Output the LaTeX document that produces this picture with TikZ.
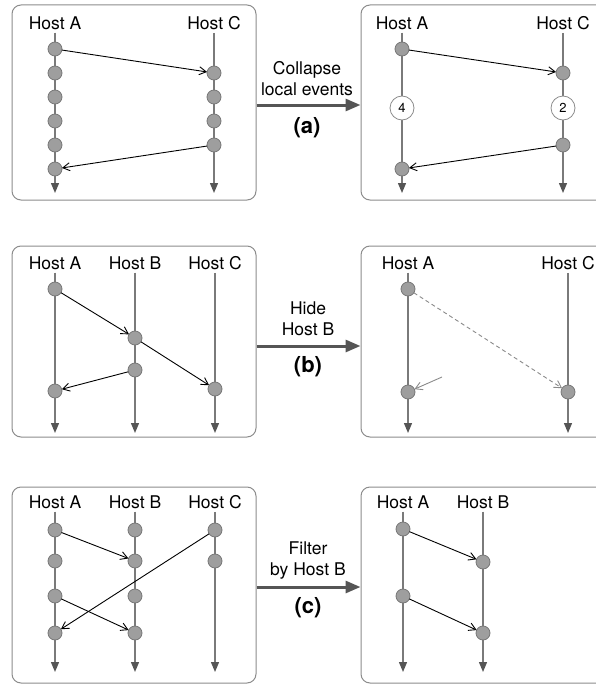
\documentclass[tikz,border=0pt]{standalone}
\usepackage{fontspec}
\setmainfont{TeX Gyre Heros}
\usepackage{xcolor}
\definecolor{cFrame}{HTML}{8C8C8C}
\definecolor{cLine}{HTML}{7A7A7A}
\definecolor{cEvent}{HTML}{9E9E9E}
\definecolor{cEventEdge}{HTML}{777777}
\definecolor{cDark}{HTML}{555555}
\definecolor{cHint}{HTML}{8A8A8A}
\usepackage{tikz}
\usetikzlibrary{positioning,arrows.meta}
\tikzset{
  panel-box/.style={draw=cFrame,line width=1pt,rounded corners=9pt,inner sep=0pt},
  host-label/.style={font=\fontsize{17.5}{21}\selectfont,inner sep=3pt},
  node-event/.style={circle,draw=cEventEdge,fill=cEvent,line width=0.8pt,
    minimum size=14pt,inner sep=0pt,outer sep=0pt},
  node-count/.style={circle,draw=cFrame,fill=white,line width=0.8pt,
    minimum size=24pt,inner sep=0pt,font=\fontsize{13}{15}\selectfont},
  % lifelines run under the events, messages go border to border
  lifeline/.style={draw=cLine,line width=1.3pt,
    -{Triangle[length=10pt,width=8pt,color=cDark]}},
  arrow-msg/.style={-{Straight Barb[length=7pt,width=8pt]},line width=0.9pt,draw=black},
  arrow-hidden/.style={-{Straight Barb[length=7pt,width=8pt]},line width=0.9pt,
    draw=cHint,dash pattern=on 4pt off 3pt},
  arrow-hint/.style={-{Straight Barb[length=7pt,width=8pt]},line width=0.9pt,draw=cHint},
  arrow-step/.style={-{Triangle[length=15pt,width=12pt]},line width=3pt,draw=cDark},
  step-text/.style={font=\fontsize{17.5}{21}\selectfont,align=center},
  step-tag/.style={font=\fontsize{22}{26}\selectfont\bfseries},
}

\begin{document}
\begin{tikzpicture}[x=1pt,y=-1pt,node distance=10pt]
  \useasboundingbox (0,0) rectangle (595,685);
  \node[panel-box,minimum width=244pt,minimum height=195pt] (pa-l) at (134,102.5) {};
  \node[panel-box,minimum width=250pt,minimum height=195pt] (pa-r) at (486,102.5) {};
  \node[panel-box,minimum width=244pt,minimum height=191pt] (pb-l) at (134,341.5) {};
  \node[panel-box,minimum width=250pt,minimum height=191pt] (pb-r) at (486,341.5) {};
  \node[panel-box,minimum width=244pt,minimum height=196pt] (pc-l) at (134,585) {};
  \node[panel-box,minimum width=250pt,minimum height=196pt] (pc-r) at (486,585) {};

  \draw[arrow-step] ([yshift=-2.5pt]pa-l.east) -- ([yshift=-2.5pt]pa-r.west);
  \draw[arrow-step] ([yshift=-4.5pt]pb-l.east) -- ([yshift=-4.5pt]pb-r.west);
  \draw[arrow-step] ([yshift=-2pt]pc-l.east) -- ([yshift=-2pt]pc-r.west);
  \node[step-text] (ta) at (307,79) {Collapse\\local events};
  \node[step-tag] (tag-a) at (307,128) {(a)};
  \node[step-text] (tb) at (308,319) {Hide\\Host B};
  \node[step-tag] (tag-b) at (308,367) {(b)};
  \node[step-text] (tc) at (308,561) {Filter\\by Host B};
  \node[step-tag] (tag-c) at (308,608) {(c)};

  \node[host-label] (la-hA) at (55,23) {Host A};
  \node[host-label] (la-hC) at (214,23) {Host C};
  \coordinate (la-eA) at (55,193);
  \coordinate (la-eC) at (214,193);
  \draw[lifeline] (la-hA) -- (la-eA);
  \draw[lifeline] (la-hC) -- (la-eC);
  \node[node-event] (la-a1) at (55,49) {};
  \node[node-event,below=of la-a1] (la-a2) {};
  \node[node-event,below=of la-a2] (la-a3) {};
  \node[node-event,below=of la-a3] (la-a4) {};
  \node[node-event,below=of la-a4] (la-a5) {};
  \node[node-event,below=of la-a5] (la-a6) {};
  \node[node-event] (la-c1) at (214,73) {};
  \node[node-event,below=of la-c1] (la-c2) {};
  \node[node-event,below=of la-c2] (la-c3) {};
  \node[node-event,below=of la-c3] (la-c4) {};
  \draw[arrow-msg] (la-a1) -- (la-c1);
  \draw[arrow-msg] (la-c4) -- (la-a6);

  \node[host-label] (ra-hA) at (402,23) {Host A};
  \node[host-label] (ra-hC) at (563,23) {Host C};
  \coordinate (ra-eA) at (402,193);
  \coordinate (ra-eC) at (563,193);
  \draw[lifeline] (ra-hA) -- (ra-eA);
  \draw[lifeline] (ra-hC) -- (ra-eC);
  \node[node-event] (ra-a1) at (402,49) {};
  \node[node-count] (ra-n4) at (402,108) {4};
  \node[node-event] (ra-a2) at (402,169) {};
  \node[node-event] (ra-c1) at (563,73) {};
  \node[node-count] (ra-n2) at (563,108) {2};
  \node[node-event] (ra-c2) at (563,145) {};
  \draw[arrow-msg] (ra-a1) -- (ra-c1);
  \draw[arrow-msg] (ra-c2) -- (ra-a2);

  \node[host-label] (lb-hA) at (55,263) {Host A};
  \node[host-label] (lb-hB) at (135,263) {Host B};
  \node[host-label] (lb-hC) at (215,263) {Host C};
  \coordinate (lb-eA) at (55,433);
  \coordinate (lb-eB) at (135,433);
  \coordinate (lb-eC) at (215,433);
  \draw[lifeline] (lb-hA) -- (lb-eA);
  \draw[lifeline] (lb-hB) -- (lb-eB);
  \draw[lifeline] (lb-hC) -- (lb-eC);
  \node[node-event] (lb-a1) at (55,289) {};
  \node[node-event] (lb-a2) at (55,391) {};
  \node[node-event] (lb-b1) at (135,338) {};
  \node[node-event] (lb-b2) at (135,370) {};
  \node[node-event] (lb-c1) at (215,389) {};
  \draw[arrow-msg] (lb-a1) -- (lb-b1);
  \draw[arrow-msg] (lb-b1) -- (lb-c1);
  \draw[arrow-msg] (lb-b2) -- (lb-a2);

  \node[host-label] (rb-hA) at (408,263) {Host A};
  \node[host-label] (rb-hC) at (568,263) {Host C};
  \coordinate (rb-eA) at (408,433);
  \coordinate (rb-eC) at (568,433);
  \draw[lifeline] (rb-hA) -- (rb-eA);
  \draw[lifeline] (rb-hC) -- (rb-eC);
  \node[node-event] (rb-a1) at (408,289) {};
  \node[node-event] (rb-a2) at (408,392) {};
  \node[node-event] (rb-c1) at (568,392) {};
  \coordinate (rb-from) at (442,377);
  \draw[arrow-hidden] (rb-a1) -- (rb-c1);
  \draw[arrow-hint] (rb-from) -- (rb-a2);

  \node[host-label] (lc-hA) at (55,502) {Host A};
  \node[host-label] (lc-hB) at (135,502) {Host B};
  \node[host-label] (lc-hC) at (215,502) {Host C};
  \coordinate (lc-eA) at (55,672);
  \coordinate (lc-eB) at (135,672);
  \coordinate (lc-eC) at (215,672);
  \draw[lifeline] (lc-hA) -- (lc-eA);
  \draw[lifeline] (lc-hB) -- (lc-eB);
  \draw[lifeline] (lc-hC) -- (lc-eC);
  \node[node-event] (lc-a1) at (55,530) {};
  \node[node-event] (lc-a2) at (55,561) {};
  \node[node-event] (lc-a3) at (55,596) {};
  \node[node-event] (lc-a4) at (55,633) {};
  \node[node-event] (lc-b1) at (135,530) {};
  \node[node-event] (lc-b2) at (135,561) {};
  \node[node-event] (lc-b3) at (135,596) {};
  \node[node-event] (lc-b4) at (135,633) {};
  \node[node-event] (lc-c1) at (215,530) {};
  \node[node-event] (lc-c2) at (215,561) {};
  \draw[arrow-msg] (lc-a1) -- (lc-b2);
  \draw[arrow-msg] (lc-c1) -- (lc-a4);
  \draw[arrow-msg] (lc-a3) -- (lc-b4);

  \node[host-label] (rc-hA) at (403,502) {Host A};
  \node[host-label] (rc-hB) at (483,502) {Host B};
  \coordinate (rc-eA) at (403,672);
  \coordinate (rc-eB) at (483,672);
  \draw[lifeline] (rc-hA) -- (rc-eA);
  \draw[lifeline] (rc-hB) -- (rc-eB);
  \node[node-event] (rc-a1) at (403,529) {};
  \node[node-event] (rc-a2) at (403,596) {};
  \node[node-event] (rc-b1) at (483,562) {};
  \node[node-event] (rc-b2) at (483,633) {};
  \draw[arrow-msg] (rc-a1) -- (rc-b1);
  \draw[arrow-msg] (rc-a2) -- (rc-b2);
\end{tikzpicture}
\end{document}
